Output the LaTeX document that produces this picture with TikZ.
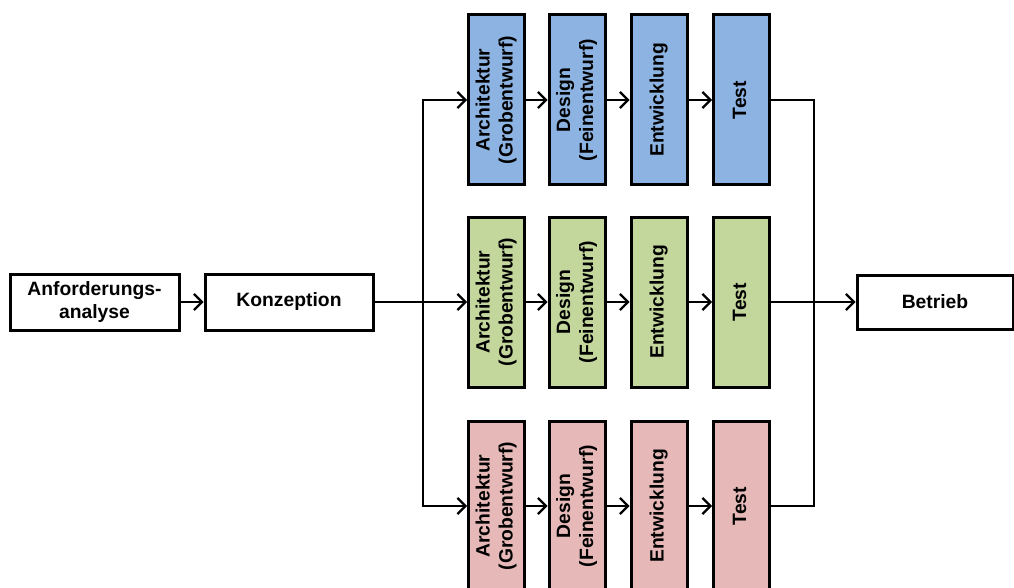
\documentclass[tikz,border=0pt]{standalone}
\usepackage{fontspec}
\setmainfont{Liberation Sans}
\usetikzlibrary{arrows.meta}
\definecolor{phaseblue}{HTML}{8DB3E2}
\definecolor{phasegreen}{HTML}{C3D69B}
\definecolor{phasered}{HTML}{E6B9B8}
\begin{document}
\begin{tikzpicture}[x=1pt,y=-1pt,
  box/.style={draw=black,line width=3pt,inner sep=0pt,align=center,
    font=\fontsize{19.3}{23}\selectfont\bfseries},
  wide/.style={box,minimum height=56pt},
  stage/.style={box,minimum width=56pt,minimum height=170pt},
  conn/.style={line width=2.2pt},
  arr/.style={conn,-{Straight Barb[length=8pt,width=16pt,line width=2.2pt]}}]
\newcommand{\vtext}[1]{\rotatebox{90}{\begin{tabular}{@{}c@{}}#1\end{tabular}}}
\useasboundingbox (0,0) rectangle (1014,588);

% linear phases
\node[wide,minimum width=169pt] (anf) at (94.5,302) {Anforderungs-\\analyse};
\node[wide,minimum width=168pt] (konz) at (289,302) {Konzeption};
\node[wide,minimum width=156pt,minimum height=54pt] (betr) at (935,302) {Betrieb};

% three parallel development strands
\foreach \r/\y/\c in {1/100/phaseblue,2/302/phasegreen,3/506/phasered}{
  \node[stage,fill=\c] (a\r) at (496.5,\y) {\vtext{Architektur\\(Grobentwurf)}};
  \node[stage,fill=\c] (d\r) at (577,\y) {\vtext{Design\\(Feinentwurf)}};
  \node[stage,fill=\c] (e\r) at (659,\y) {\vtext{Entwicklung}};
  \node[stage,fill=\c] (t\r) at (741.5,\y) {\vtext{Test}};
  \draw[arr] (a\r) -- (d\r);
  \draw[arr] (d\r) -- (e\r);
  \draw[arr] (e\r) -- (t\r);
}

\coordinate (busL) at (423,302);
\coordinate (busR) at (814,302);

\draw[arr] (anf) -- (konz);
\draw[arr] (konz) -- (a2);
\draw[arr] (busL) |- (a1.west);
\draw[arr] (busL) |- (a3.west);
\draw[conn] (t1.east) -| (busR);
\draw[conn] (t3.east) -| (busR);
\draw[arr] (t2) -- (betr);
\end{tikzpicture}
\end{document}
